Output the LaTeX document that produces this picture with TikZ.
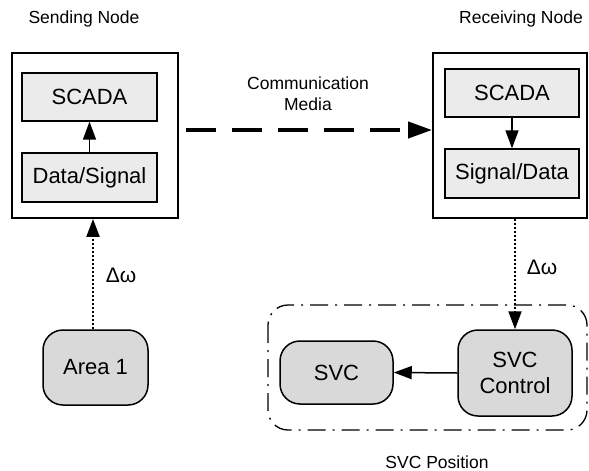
\documentclass[tikz,border=0pt]{standalone}
\usepackage{fontspec}
\setmainfont{Liberation Sans}
\usetikzlibrary{arrows.meta}
\definecolor{lightbox}{HTML}{EBEBEB}
\definecolor{roundbox}{HTML}{D9D9D9}
\tikzset{
  outerbox/.style={draw, line width=1.8pt, inner sep=0pt},
  innerbox/.style={draw, line width=1.3pt, fill=lightbox, inner sep=0pt, font=\fontsize{22}{25}\selectfont},
  roundnode/.style={draw, line width=1.5pt, fill=roundbox, rounded corners=20pt, inner sep=0pt, align=center, font=\fontsize{22}{26}\selectfont},
  lbl/.style={font=\fontsize{17.5}{21}\selectfont, align=center, inner sep=0pt},
  tip/.style={-{Triangle[length=18pt,width=13pt]}},
  bigtip/.style={-{Triangle[length=24pt,width=16pt]}},
  dotline/.style={line width=2pt, dash pattern=on 2pt off 2pt},
}
\begin{document}
\begin{tikzpicture}[x=1pt,y=-1pt]
\useasboundingbox (0,0) rectangle (589,471);
% left outer box
\node[outerbox, minimum width=166pt, minimum height=165pt] (lbox) at (95,135.5) {};
\node[innerbox, minimum width=135pt, minimum height=48pt] (lscada) at (89.5,97) {SCADA};
\node[innerbox, minimum width=135pt, minimum height=49pt] (ldata) at (89.5,177.5) {Data/Signal};
% right outer box
\node[outerbox, minimum width=154pt, minimum height=165pt] (rbox) at (510,135.5) {};
\node[innerbox, minimum width=134pt, minimum height=48pt] (rscada) at (512,93) {SCADA};
\node[innerbox, minimum width=134pt, minimum height=49pt] (rsig) at (512,173.5) {Signal/Data};
% labels
\node[lbl] (send) at (84,19) {Sending Node};
\node[lbl] (recv) at (521,19) {Receiving Node};
\node[lbl] (comm) at (308,94) {Communication\\Media};
\node[lbl] (svcpos) at (437,462) {SVC Position};
\node[font=\fontsize{21}{24}\selectfont, inner sep=0pt] (dw1) at (121,275) {Δω};
\node[font=\fontsize{21}{24}\selectfont, inner sep=0pt] (dw2) at (542,267) {Δω};
% bottom nodes
\node[roundnode, minimum width=105pt, minimum height=75pt] (area) at (95.5,367.5) {Area 1};
\draw[line width=1.3pt, dash pattern=on 18pt off 7pt on 2pt off 7pt, rounded corners=20pt] (268,305) rectangle (587,430);
\node[roundnode, minimum width=114pt, minimum height=86pt] (svcctl) at (515,373) {SVC\\Control};
\node[roundnode, minimum width=113pt, minimum height=63pt] (svc) at (336.5,372.5) {SVC};
% connectors
\draw[tip, line width=1.5pt] (ldata.north) -- (lscada.south);
\draw[tip, line width=1.5pt] (rscada.south) -- (rsig.north);
\draw[tip, dotline] (area.north -| 93,0) -- (lbox.south -| 93,0);
\draw[tip, dotline] (rbox.south -| 515,0) -- (svcctl.north);
\draw[tip, line width=1.5pt] (svcctl.west) -- (svc.east);
\draw[bigtip, line width=4pt, dash pattern=on 30pt off 16pt] (186,130) -- (rbox.west |- 0,130);
\end{tikzpicture}
\end{document}
